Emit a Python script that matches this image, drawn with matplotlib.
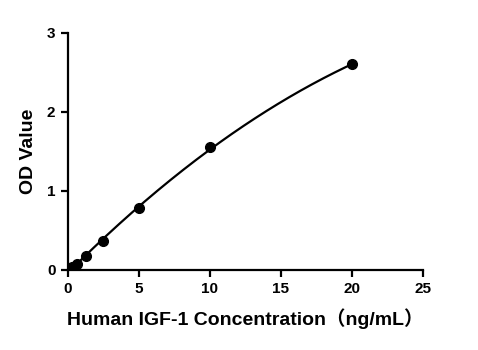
import numpy as np
import matplotlib
matplotlib.use('Agg')
import matplotlib.pyplot as plt

conc = [0.3125, 0.625, 1.25, 2.5, 5, 10, 20]
od = [0.04, 0.08, 0.18, 0.37, 0.78, 1.55, 2.6]
xticks = [0, 5, 10, 15, 20, 25]
yticks = [0, 1, 2, 3]

plt.rcParams['font.family'] = ['Liberation Sans', 'Noto Sans CJK SC', 'DejaVu Sans']
plt.rcParams['font.weight'] = 'bold'

fig = plt.figure(figsize=(4.78, 3.5), dpi=100)
ax = fig.add_axes([0.142, 0.229, 0.743, 0.677])

# quadratic fit through the standards
coef = np.polyfit(conc, od, 2)
xf = np.linspace(0, 20, 200)
ax.plot(xf, np.polyval(coef, xf), color='black', lw=1.6)
ax.plot(conc, od, 'o', color='black', ms=7)

ax.set_xlim(0, 25)
ax.set_ylim(0, 3)
ax.set_xticks(xticks)
ax.set_yticks(yticks)
for s in ['top', 'right']:
	ax.spines[s].set_visible(False)
for s in ['left', 'bottom']:
	ax.spines[s].set_linewidth(1.6)
ax.tick_params(width=1.6, length=5, labelsize=11)
ax.tick_params(axis='y', pad=4)
for lab in ax.get_xticklabels() + ax.get_yticklabels():
	lab.set_fontweight('bold')

ax.set_xlabel('Human IGF-1 Concentration（ng/mL）', fontsize=14, fontweight='bold', labelpad=9)
ax.set_ylabel('OD Value', fontsize=14, fontweight='bold', labelpad=7)

fig.savefig('out.png', dpi=100)
